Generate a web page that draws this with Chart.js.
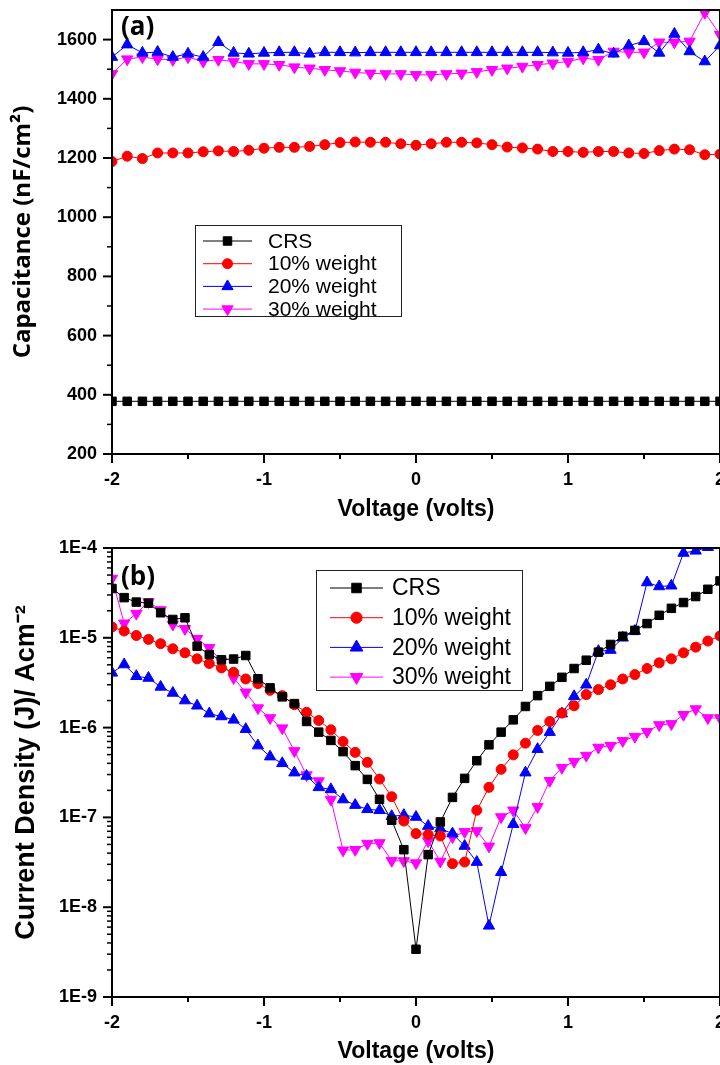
<!DOCTYPE html>
<html>
<head>
<meta charset="utf-8">
<script src="https://cdn.jsdelivr.net/npm/chart.js@4.4.0/dist/chart.umd.min.js"></script>
<style>
  html, body { margin: 0; padding: 0; background: #fff; overflow: hidden; width: 720px; height: 1065px; }
  canvas { position: absolute; left: 0; }
  #capChart { top: 0; }
  #curChart { top: 530px; }
</style>
</head>
<body>
<canvas id="capChart" width="760" height="530"></canvas>
<canvas id="curChart" width="760" height="535"></canvas>
<script>
// ---- data: panel (a) capacitance vs voltage ----
const capVoltage = [-2.0, -1.9, -1.8, -1.7, -1.6, -1.5, -1.4, -1.3, -1.2, -1.1, -1.0, -0.9, -0.8, -0.7, -0.6, -0.5, -0.4, -0.3, -0.2, -0.1,
  0.0, 0.1, 0.2, 0.3, 0.4, 0.5, 0.6, 0.7, 0.8, 0.9, 1.0, 1.1, 1.2, 1.3, 1.4, 1.5, 1.6, 1.7, 1.8, 1.9, 2.0];
const capCRS = [378, 378, 378, 378, 378, 378, 378, 378, 378, 378, 378, 378, 378, 378, 378, 378, 378, 378, 378, 378,
  378, 378, 378, 378, 378, 378, 378, 378, 378, 378, 378, 378, 378, 378, 378, 378, 378, 378, 378, 378, 378];
const cap10 = [1188, 1206, 1198, 1217, 1217, 1217, 1221, 1224, 1222, 1226, 1233, 1236, 1236, 1239, 1245, 1252, 1254, 1253, 1253, 1248,
  1243, 1248, 1253, 1253, 1251, 1245, 1237, 1234, 1230, 1222, 1222, 1219, 1222, 1222, 1217, 1215, 1225, 1230, 1228, 1211, 1213];
const cap20 = [1541, 1583, 1555, 1558, 1541, 1552, 1541, 1591, 1555, 1552, 1555, 1557, 1557, 1552, 1557, 1557, 1556, 1557, 1557, 1557,
  1557, 1557, 1557, 1557, 1557, 1557, 1557, 1557, 1557, 1556, 1555, 1557, 1566, 1552, 1580, 1594, 1555, 1619, 1560, 1526, 1580];
const cap30 = [1484, 1534, 1541, 1534, 1532, 1541, 1526, 1532, 1526, 1518, 1518, 1515, 1507, 1503, 1498, 1494, 1489, 1486, 1484, 1484,
  1481, 1481, 1484, 1486, 1491, 1498, 1503, 1509, 1515, 1520, 1526, 1537, 1532, 1560, 1557, 1557, 1591, 1591, 1594, 1691, 1617];
const capTicks = [200, 400, 600, 800, 1000, 1200, 1400, 1600];

// ---- data: panel (b) current density vs voltage ----
const curVoltage = [-2, -1.92, -1.84, -1.76, -1.68, -1.6, -1.52, -1.44, -1.36, -1.28, -1.2, -1.12, -1.04, -0.96, -0.88, -0.8, -0.72,
  -0.64, -0.56, -0.48, -0.4, -0.32, -0.24, -0.16, -0.08, 0, 0.08, 0.16, 0.24, 0.32, 0.4, 0.48, 0.56, 0.64, 0.72, 0.8, 0.88,
  0.96, 1.04, 1.12, 1.2, 1.28, 1.36, 1.44, 1.52, 1.6, 1.68, 1.76, 1.84, 1.92, 2];
const curCRS = [3.54e-5, 2.8e-5, 2.5e-5, 2.43e-5, 1.9e-5, 1.6e-5, 1.67e-5, 8.07e-6, 6.5e-6, 5.7e-6, 5.8e-6, 6.35e-6, 3.5e-6,
  2.77e-6, 2.2e-6, 1.85e-6, 1.17e-6, 8.9e-7, 7.2e-7, 5.4e-7, 3.77e-7, 2.65e-7, 1.59e-7, 9.3e-8, 4.37e-8, 3.4e-9, 3.85e-8,
  8.9e-8, 1.67e-7, 2.72e-7, 4.28e-7, 6.43e-7, 8.9e-7, 1.22e-6, 1.72e-6, 2.27e-6, 2.88e-6, 3.63e-6, 4.55e-6, 5.63e-6,
  6.92e-6, 8.43e-6, 1.04e-5, 1.21e-5, 1.44e-5, 1.78e-5, 2.13e-5, 2.47e-5, 2.88e-5, 3.47e-5, 4.3e-5];
const cur10 = [1.32e-5, 1.19e-5, 1.06e-5, 9.6e-6, 8.6e-6, 7.55e-6, 6.8e-6, 5.83e-6, 5.17e-6, 4.62e-6, 4.13e-6, 3.48e-6, 3.09e-6,
  2.6e-6, 2.27e-6, 1.8e-6, 1.48e-6, 1.2e-6, 9.45e-7, 7.0e-7, 5.3e-7, 4.1e-7, 2.67e-7, 1.7e-7, 9.1e-8, 6.6e-8, 6.45e-8,
  6.2e-8, 3.05e-8, 3.18e-8, 1.2e-7, 2.16e-7, 3.43e-7, 4.97e-7, 6.7e-7, 9.3e-7, 1.17e-6, 1.45e-6, 1.75e-6, 2.33e-6,
  2.65e-6, 3.0e-6, 3.48e-6, 3.89e-6, 4.55e-6, 5.26e-6, 5.83e-6, 6.8e-6, 7.87e-6, 9.2e-6, 1.05e-5];
const cur20 = [4.07e-6, 5.04e-6, 3.73e-6, 3.57e-6, 2.84e-6, 2.43e-6, 2.0e-6, 1.75e-6, 1.43e-6, 1.33e-6, 1.22e-6, 9.6e-7, 6.3e-7,
  4.75e-7, 4.0e-7, 3.15e-7, 2.89e-7, 2.16e-7, 2.05e-7, 1.58e-7, 1.37e-7, 1.23e-7, 1.2e-7, 1.03e-7, 1.06e-7, 1.01e-7, 8.0e-8,
  7.5e-8, 6.6e-8, 4.8e-8, 3.18e-8, 6.2e-9, 2.45e-8, 8.4e-8, 3.15e-7, 5.75e-7, 8.9e-7, 1.43e-6, 2.23e-6, 3.0e-6,
  7.1e-6, 7.3e-6, 1.0e-5, 1.19e-5, 4.13e-5, 3.73e-5, 3.8e-5, 8.8e-5, 9.3e-5, 1.02e-4, 1.1e-4];
const cur30 = [4.58e-5, 1.45e-5, 1.86e-5, 2.51e-5, 2.04e-5, 1.41e-5, 1.26e-5, 9.77e-6, 7.74e-6, 5.48e-6, 3.57e-6, 2.47e-6, 1.65e-6,
  1.28e-6, 9.86e-7, 5.5e-7, 2.96e-7, 2.54e-7, 1.58e-7, 4.3e-8, 4.36e-8, 5.1e-8, 5.19e-8, 3.3e-8, 3.27e-8, 3.1e-8, 5.45e-8,
  3.23e-8, 6.05e-8, 6.9e-8, 7.07e-8, 4.76e-8, 1.01e-7, 1.2e-7, 7.64e-8, 1.31e-7, 2.56e-7, 3.58e-7, 4.18e-7, 4.88e-7,
  6.0e-7, 6.3e-7, 7.12e-7, 7.94e-7, 9.0e-7, 1.07e-6, 1.1e-6, 1.39e-6, 1.61e-6, 1.28e-6, 1.28e-6];
const curTicks = [1e-9, 1e-8, 1e-7, 1e-6, 1e-5, 1e-4];

const voltTicks = [-2, -1, 0, 1, 2];
const seriesLabels = ['CRS', '10% weight', '20% weight', '30% weight'];

// marker look per series
const looks = [
  { color: '#000000', style: 'rect', rot: 0, r: 6 },
  { color: '#ff0000', style: 'circle', rot: 0, r: 5 },
  { color: '#0000ff', style: 'triangle', rot: 0, r: 6.5 },
  { color: '#ff00ff', style: 'triangle', rot: 180, r: 6.5 }
];

const tickFont = { family: 'Liberation Sans, Arial', size: 18, weight: 'bold' };

function buildSets(xs, seriesList) {
  return seriesList.map((ys, i) => ({
    label: seriesLabels[i],
    data: xs.map((x, k) => ({ x: x, y: ys[k] })),
    borderColor: looks[i].color,
    backgroundColor: looks[i].color,
    borderWidth: 1,
    pointStyle: looks[i].style,
    pointRotation: looks[i].rot,
    pointRadius: looks[i].r,
    pointBorderWidth: 1,
    pointHoverRadius: looks[i].r,
    clip: 0
  }));
}

// frame, outward major/minor ticks and the panel letter
const frameTicks = {
  id: 'frameTicks',
  afterDatasetsDraw(chart, args, opts) {
    const { ctx, chartArea: a, scales: { x, y } } = chart;
    ctx.save();
    ctx.strokeStyle = '#000';
    const seg = (x0, y0, x1, y1, w) => {
      ctx.lineWidth = w;
      ctx.beginPath(); ctx.moveTo(x0, y0); ctx.lineTo(x1, y1); ctx.stroke();
    };
    // x ticks every 0.5 V
    for (let v = -2; v <= 2.0001; v += 0.5) {
      const px = x.getPixelForValue(v);
      const major = Math.abs(v - Math.round(v)) < 1e-6;
      seg(px, a.bottom, px, a.bottom + (major ? 9 : 5), 2);
    }
    // y ticks
    let minors = [];
    if (opts.log) {
      for (let d = -9; d < -4; d++) {
        for (let k = 2; k <= 9; k++) minors.push(k * Math.pow(10, d));
      }
    } else {
      for (let v = 300; v < 1700; v += 200) minors.push(v);
    }
    minors.forEach(v => {
      const py = y.getPixelForValue(v);
      seg(a.left, py, a.left - 5, py, 1.5);
    });
    opts.major.forEach(v => {
      const py = y.getPixelForValue(v);
      seg(a.left, py, a.left - 9, py, 2);
    });
    ctx.lineWidth = 2;
    ctx.strokeRect(a.left, a.top, a.right - a.left, a.bottom - a.top);
    // panel letter
    ctx.fillStyle = '#000';
    ctx.font = 'bold 26px "Open Sans"';
    ctx.textBaseline = 'middle';
    ctx.textAlign = 'left';
    ctx.fillText(opts.letter, a.left + 9, a.top + opts.letterY);
    ctx.restore();
  }
};

// boxed legend with line + marker samples
const boxLegend = {
  id: 'boxLegend',
  afterDraw(chart, args, o) {
    const ctx = chart.ctx;
    ctx.save();
    ctx.strokeStyle = '#222';
    ctx.lineWidth = 1;
    ctx.strokeRect(o.x + 0.5, o.y + 0.5, o.w, o.h);
    ctx.font = o.size + 'px "Liberation Sans", Arial';
    ctx.textBaseline = 'middle';
    ctx.textAlign = 'left';
    chart.data.datasets.forEach((ds, i) => {
      const cy = o.y + o.first + i * o.step;
      ctx.strokeStyle = ds.borderColor;
      ctx.fillStyle = ds.backgroundColor;
      ctx.lineWidth = 1;
      ctx.beginPath(); ctx.moveTo(o.x + o.line0, cy); ctx.lineTo(o.x + o.line1, cy); ctx.stroke();
      Chart.helpers.drawPoint(ctx, {
        pointStyle: ds.pointStyle, rotation: ds.pointRotation,
        radius: ds.pointRadius * o.scale, borderWidth: 1
      }, o.x + (o.line0 + o.line1) / 2, cy);
      ctx.fillStyle = '#000';
      ctx.fillText(ds.label, o.x + o.text, cy + 1);
    });
    ctx.restore();
  }
};

function makeChart(id, xs, seriesList, yScale, yTitle, padTop, xTitlePad, yTitlePad, pluginOpts) {
  return new Chart(document.getElementById(id), {
    type: 'line',
    data: { datasets: buildSets(xs, seriesList) },
    plugins: [frameTicks, boxLegend],
    options: {
      responsive: false,
      animation: false,
      events: [],
      layout: { padding: { top: padTop, right: 40, left: 0, bottom: 0 } },
      plugins: {
        legend: { display: false },
        tooltip: { enabled: false },
        frameTicks: pluginOpts.frame,
        boxLegend: pluginOpts.legend
      },
      scales: {
        x: {
          type: 'linear',
          min: -2, max: 2,
          afterBuildTicks: s => { s.ticks = voltTicks.map(v => ({ value: v })); },
          afterFit: s => { s.height = pluginOpts.xHeight; },
          grid: { display: false, drawTicks: false },
          border: { display: false },
          ticks: { font: tickFont, color: '#000', padding: 15, maxRotation: 0, autoSkip: false },
          title: {
            display: true, text: 'Voltage (volts)', color: '#000',
            font: { family: 'Liberation Sans, Arial', size: 23, weight: 'bold' },
            padding: { top: 0, bottom: xTitlePad }
          }
        },
        y: Object.assign({
          afterFit: s => { s.width = 112; s.paddingTop = 0; s.paddingBottom = 0; },
          grid: { display: false, drawTicks: false },
          border: { display: false },
          title: {
            display: true, text: yTitle.text, color: '#000',
            font: yTitle.font,
            padding: { top: yTitlePad, bottom: 0 }
          }
        }, yScale)
      }
    }
  });
}

makeChart('capChart', capVoltage, [capCRS, cap10, cap20, cap30], {
  type: 'linear', min: 200, max: 1700,
  afterBuildTicks: s => { s.ticks = capTicks.map(v => ({ value: v })); },
  ticks: { font: tickFont, color: '#000', padding: 15, autoSkip: false, callback: v => String(v) }
}, {
  text: 'Capacitance (nF/cm²)',
  font: { family: 'Open Sans', size: 24, weight: 'bold' }
}, 10, 7, 9, {
  xHeight: 76,
  frame: { log: false, major: capTicks, letter: '(a)', letterY: 18 },
  legend: { x: 195, y: 225, w: 206, h: 91, first: 16, step: 22.7, line0: 8, line1: 57, text: 73, size: 21, scale: 1 }
});

makeChart('curChart', curVoltage, [curCRS, cur10, cur20, cur30], {
  type: 'logarithmic', min: 1e-9, max: 1e-4,
  afterBuildTicks: s => { s.ticks = curTicks.map(v => ({ value: v })); },
  ticks: {
    font: tickFont, color: '#000', padding: 15, autoSkip: false,
    callback: v => '1E' + Math.round(Math.log10(v))
  }
}, {
  text: 'Current Density (J)/ Acm⁻²',
  font: { family: 'Liberation Sans, Arial', size: 27, weight: 'bold' }
}, 18, 0, 10, {
  xHeight: 68,
  frame: { log: true, major: curTicks, letter: '(b)', letterY: 30 },
  legend: { x: 316, y: 40, w: 206, h: 120, first: 18, step: 29.7, line0: 14, line1: 67, text: 76, size: 23, scale: 1.12 }
});
</script>
</body>
</html>
